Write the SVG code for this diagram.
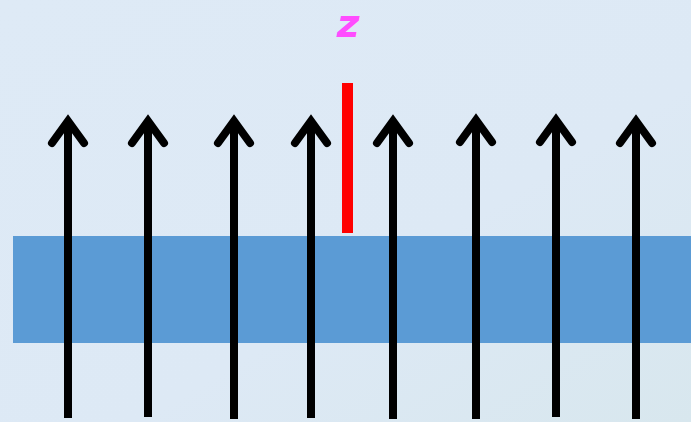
<svg xmlns="http://www.w3.org/2000/svg" width="691" height="422" viewBox="0 0 691 422">
<defs>
<linearGradient id="bg" x1="0" y1="0" x2="1" y2="1">
<stop offset="0" stop-color="#DEEAF6"/>
<stop offset="0.6" stop-color="#DDE9F5"/>
<stop offset="1" stop-color="#D8E7EE"/>
</linearGradient>
<style>
.shaft{stroke:#000;stroke-width:8;fill:none;stroke-linecap:butt}
.head{stroke:#000;stroke-width:8;fill:none;stroke-linecap:round;stroke-linejoin:miter}
</style>
</defs>
<rect width="691" height="422" fill="url(#bg)"/>
<g id="slab"><rect x="13" y="236" width="678" height="107" fill="#5B9BD5"/></g>
<g id="rod"><rect x="342" y="83" width="11" height="150" fill="#FF0000"/></g>
<g id="label"><text x="348" y="37" font-family="DejaVu Sans" font-style="italic" font-weight="bold" font-size="39" fill="#FF4DFF" text-anchor="middle">z</text></g>
<g id="connectors">
<g transform="translate(68,0)"><line class="shaft" x1="0" y1="124" x2="0" y2="418"/><polyline class="head" points="-16,143 0,121 16,143"/></g>
<g transform="translate(148,0)"><line class="shaft" x1="0" y1="124" x2="0" y2="417"/><polyline class="head" points="-16,143 0,121 16,143"/></g>
<g transform="translate(234,0)"><line class="shaft" x1="0" y1="124" x2="0" y2="419"/><polyline class="head" points="-16,143 0,121 16,143"/></g>
<g transform="translate(311,0)"><line class="shaft" x1="0" y1="124" x2="0" y2="418"/><polyline class="head" points="-16,143 0,121 16,143"/></g>
<g transform="translate(393,0)"><line class="shaft" x1="0" y1="124" x2="0" y2="419"/><polyline class="head" points="-16,143 0,121 16,143"/></g>
<g transform="translate(476,-1)"><line class="shaft" x1="0" y1="124" x2="0" y2="420"/><polyline class="head" points="-16,143 0,121 16,143"/></g>
<g transform="translate(556,-1)"><line class="shaft" x1="0" y1="124" x2="0" y2="418"/><polyline class="head" points="-16,143 0,121 16,143"/></g>
<g transform="translate(636,0)"><line class="shaft" x1="0" y1="124" x2="0" y2="419"/><polyline class="head" points="-16,143 0,121 16,143"/></g>
</g>
</svg>
